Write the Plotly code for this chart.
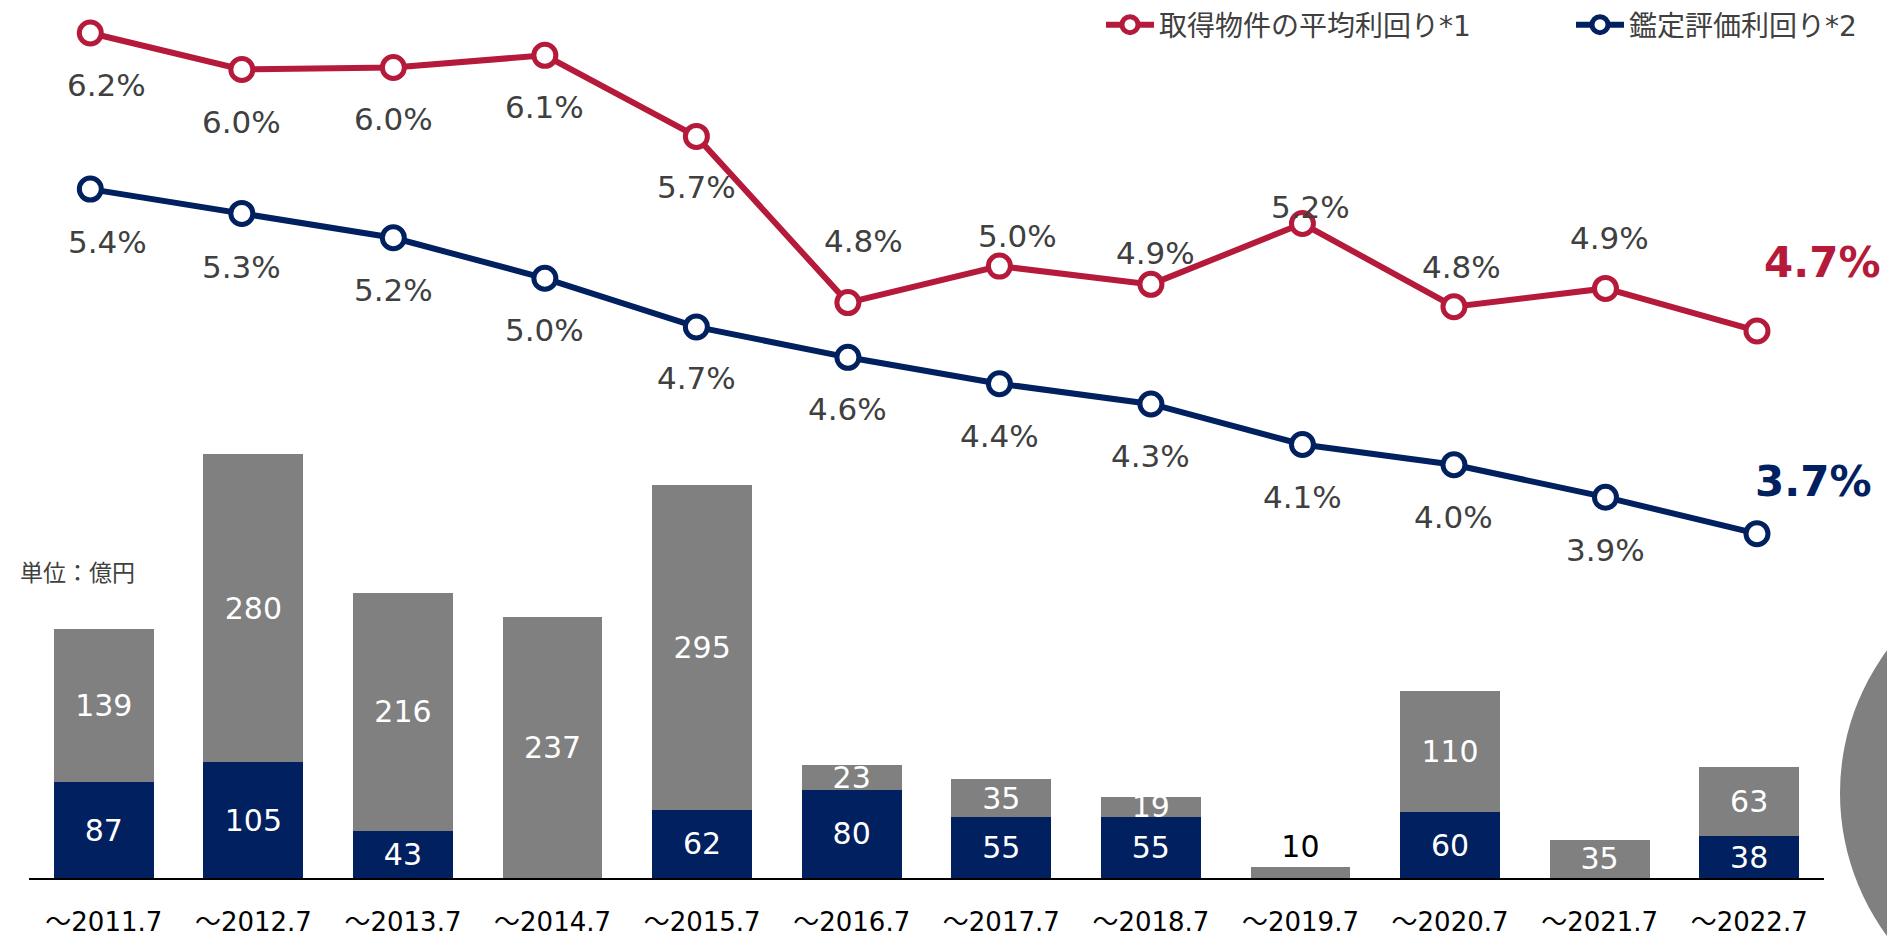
import plotly.graph_objects as go

# ---------------- data ----------------
periods = ["～2011.7", "～2012.7", "～2013.7", "～2014.7", "～2015.7", "～2016.7",
           "～2017.7", "～2018.7", "～2019.7", "～2020.7", "～2021.7", "～2022.7"]
navy_amount = [87, 105, 43, 0, 62, 80, 55, 55, 0, 60, 0, 38]          # 億円
gray_amount = [139, 280, 216, 237, 295, 23, 35, 19, 10, 110, 35, 63]  # 億円
acq_yield = [6.17, 5.99, 6.00, 6.06, 5.66, 4.84, 5.02, 4.93, 5.23, 4.82, 4.91, 4.70]
appr_yield = [5.40, 5.28, 5.16, 4.96, 4.72, 4.57, 4.44, 4.34, 4.14, 4.04, 3.88, 3.70]
name_acq = "取得物件の平均利回り*1"
name_appr = "鑑定評価利回り*2"
unit_label = "単位：億円"

# ---------------- styles ----------------
RED = "#B51A3A"
NAVY = "#00205F"
GRAY = "#808080"
TXT = "#404040"
FONT = "DejaVu Sans, Noto Sans CJK JP, sans-serif"
W, H = 1887, 937

# label offsets (px): (xshift, down-offset)
red_off = [(16, 52), (0, 52), (0, 52), (0, 52), (0, 51), (16, -62),
           (18, -30), (5, -31), (8, -17), (8, -40), (4, -50), (65, -68)]
blue_off = [(17, 53), (0, 54), (0, 52), (0, 52), (0, 51), (0, 52),
            (0, 52), (0, 52), (0, 53), (0, 52), (0, 53), (56, -52)]

fig = go.Figure()

# bars
fig.add_trace(go.Bar(
    x=periods, y=navy_amount, marker=dict(color=NAVY, line=dict(width=0)),
    width=0.667, text=[str(v) if v else "" for v in navy_amount],
    textposition="inside", insidetextanchor="middle", textangle=0,
    insidetextfont=dict(color="white", size=30, family=FONT),
    showlegend=False, hoverinfo="skip", xaxis="x", yaxis="y"))
fig.add_trace(go.Bar(
    x=periods, y=gray_amount, marker=dict(color=GRAY, line=dict(width=0)),
    width=0.667, text=[str(v) for v in gray_amount],
    textposition=["outside" if (n == 0 and g < 20) else "inside"
                  for n, g in zip(navy_amount, gray_amount)],
    insidetextanchor="middle", textangle=0,
    insidetextfont=dict(color="white", size=30, family=FONT),
    outsidetextfont=dict(color="black", size=30, family=FONT),
    cliponaxis=False,
    showlegend=False, hoverinfo="skip", xaxis="x", yaxis="y"))

# lines
for vals, col, nm, lg in [(acq_yield, RED, name_acq, "legend"),
                          (appr_yield, NAVY, name_appr, "legend2")]:
    fig.add_trace(go.Scatter(
        x=periods, y=vals, mode="lines+markers", name=nm, legend=lg,
        line=dict(color=col, width=6),
        marker=dict(symbol="circle", size=22, color="white", line=dict(color=col, width=5)),
        cliponaxis=False, xaxis="x2", yaxis="y2", hoverinfo="skip"))

annotations = []
for vals, offs, col in [(acq_yield, red_off, RED), (appr_yield, blue_off, NAVY)]:
    n = len(vals)
    for i, (v, (dx, dy)) in enumerate(zip(vals, offs)):
        last = i == n - 1
        annotations.append(dict(
            x=periods[i], y=v, xref="x2", yref="y2",
            text=(f"<b>{v:.1f}%</b>" if last else f"{v:.1f}%"),
            showarrow=False, xanchor="center", yanchor="middle",
            xshift=dx, yshift=-dy,
            font=dict(family=FONT, size=42 if last else 31, color=col if last else TXT)))

annotations.append(dict(
    x=18 / W, y=(H - 573) / H, xref="paper", yref="paper", text=unit_label,
    showarrow=False, xanchor="left", yanchor="middle",
    font=dict(family=FONT, size=23, color=TXT)))

shapes = [dict(
    type="circle", xref="paper", yref="paper",
    x0=(2081 - 241) / W, x1=(2081 + 241) / W,
    y0=(H - 793 - 241) / H, y1=(H - 793 + 241) / H,
    fillcolor=GRAY, line=dict(width=0), layer="below")]

legend_style = dict(orientation="h", xanchor="left", yanchor="middle",
                    font=dict(size=28, color=TXT, family=FONT), itemwidth=48,
                    bgcolor="rgba(0,0,0,0)", traceorder="normal")

fig.update_layout(
    template="none",
    width=W, height=H,
    margin=dict(l=0, r=0, t=0, b=0),
    paper_bgcolor="white", plot_bgcolor="rgba(0,0,0,0)",
    barmode="stack",
    font=dict(family=FONT, color=TXT),
    xaxis=dict(domain=[29 / W, 1824 / W], range=[-0.5, 11.5], type="category",
               showline=True, linecolor="black", linewidth=1.5, showgrid=False,
               zeroline=False, ticks="", tickfont=dict(size=26, color="black", family=FONT),
               ticklabelstandoff=20, automargin=False, anchor="y", fixedrange=True),
    yaxis=dict(domain=[59 / H, 1], range=[0, 878 / 1.103], visible=False,
               showgrid=False, zeroline=False, automargin=False, anchor="x"),
    xaxis2=dict(domain=[14.55 / W, 1832.75 / W], range=[-0.5, 11.5], type="category",
                visible=False, showgrid=False, anchor="y2"),
    yaxis2=dict(domain=[0, 1], range=[5.4 - (H - 188.3) / 202.9, 5.4 + 188.3 / 202.9],
                visible=False, showgrid=False, zeroline=False, anchor="x2"),
    legend=dict(x=1101 / W, y=(H - 24) / H, **legend_style),
    legend2=dict(x=1571 / W, y=(H - 24) / H, **legend_style),
    uniformtext=dict(minsize=30, mode="show"),
    annotations=annotations,
    shapes=shapes,
    showlegend=True,
)

fig.write_html("out.html", config={"displayModeBar": False},
               post_script="document.body.style.margin='0';document.body.style.overflow='hidden';")
